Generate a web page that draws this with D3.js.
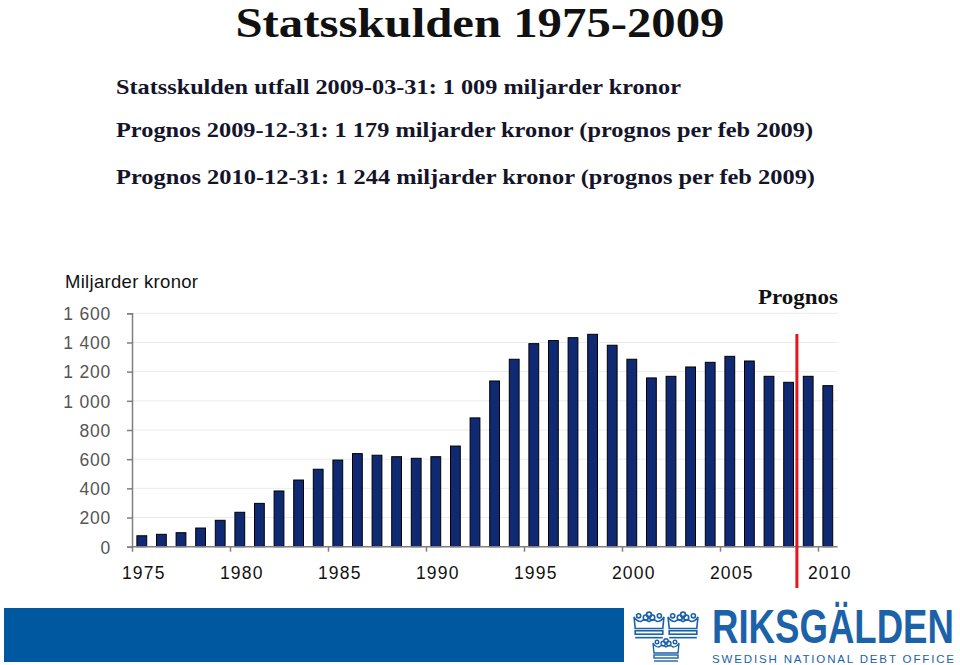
<!DOCTYPE html>
<html><head><meta charset="utf-8">
<script src="https://cdn.jsdelivr.net/npm/d3@7"></script>
<style>html,body{margin:0;padding:0;background:#fff;}svg{display:block;}</style>
</head><body>
<script>
const years = d3.range(1975, 2011);
const debt = [75, 85, 96, 128, 181, 236, 297, 382, 457, 531,
              594, 638, 627, 617, 606, 617, 690, 883, 1136, 1285,
              1392, 1413, 1433, 1456, 1381, 1285, 1157, 1168, 1232, 1264,
              1305, 1273, 1168, 1127, 1168, 1104];
const yTicks = [0, 200, 400, 600, 800, 1000, 1200, 1400, 1600];
const xLabelYears = [1975, 1980, 1985, 1990, 1995, 2000, 2005, 2010];
const title = "Statsskulden 1975-2009";
const subtitles = [
  "Statsskulden utfall 2009-03-31: 1 009 miljarder kronor",
  "Prognos 2009-12-31: 1 179 miljarder kronor (prognos per feb 2009)",
  "Prognos 2010-12-31: 1 244 miljarder kronor (prognos per feb 2009)"
];
const firstForecastYear = 2009;

const W = 960, H = 665;
const svg = d3.select("body").append("svg").attr("width", W).attr("height", H);

function fitText(sel, target) {
  const len = sel.node().getComputedTextLength();
  const fs = parseFloat(sel.attr("font-size"));
  sel.attr("font-size", fs * target / len);
}

// Title
svg.append("text").attr("x", 480).attr("y", 37).attr("text-anchor", "middle")
  .attr("font-family", "Liberation Serif, DejaVu Serif, serif").attr("font-weight", "bold")
  .attr("font-size", 43).attr("fill", "#111")
  .attr("textLength", 489).attr("lengthAdjust", "spacingAndGlyphs").text(title);

// Subtitles
const subW = [565, 697, 699];
const subY = [94, 137, 184];
subtitles.forEach((s, i) => {
  svg.append("text").attr("x", 116).attr("y", subY[i])
    .attr("font-family", "Liberation Serif, DejaVu Serif, serif").attr("font-weight", "bold")
    .attr("font-size", 21).attr("fill", "#14142a")
    .attr("textLength", subW[i]).attr("lengthAdjust", "spacingAndGlyphs").text(s);
});

// Scales
const x0 = 132, x1 = 837.6, yBase = 546.7, yTop = 313.3;
const x = d3.scaleBand().domain(years).range([x0, x1]).paddingInner(0.5).paddingOuter(0.25);
const xLin = d3.scaleLinear().domain([1975, 2011]).range([x0, x1]);
const y = d3.scaleLinear().domain([0, 1600]).range([yBase, yTop]);

// grid
svg.append("g").selectAll("line").data(yTicks.slice(1)).join("line")
  .attr("x1", x0).attr("x2", x1).attr("y1", d => y(d)).attr("y2", d => y(d))
  .attr("stroke", "#ececec").attr("stroke-width", 1);

// Y axis
const yAxis = svg.append("g").attr("transform", `translate(${x0},0)`)
  .call(d3.axisLeft(y).tickValues(yTicks).tickSize(5).tickPadding(16)
    .tickFormat(d => d3.format(",")(d).replace(",", " ")));
yAxis.select(".domain").attr("stroke", "#7f7f7f").attr("stroke-width", 1.5);
yAxis.selectAll(".tick line").attr("stroke", "#7f7f7f").attr("stroke-width", 1.5);
yAxis.selectAll(".tick text").attr("font-family", "Liberation Sans, Arial, sans-serif")
  .attr("font-size", 17.5).attr("fill", "#555").attr("letter-spacing", 0.8).attr("dy", "0.36em");

// Bars
svg.append("g").selectAll("rect").data(years).join("rect")
  .attr("x", d => x(d)).attr("width", x.bandwidth())
  .attr("y", (d, i) => y(debt[i])).attr("height", (d, i) => yBase - y(debt[i]))
  .attr("fill", "#0f2a72").attr("stroke", "#000").attr("stroke-width", 1);

// X axis ticks
const xAxis = svg.append("g").attr("transform", `translate(0,${yBase})`)
  .call(d3.axisBottom(xLin).tickValues(xLabelYears).tickSize(5).tickFormat(""));
xAxis.select(".domain").attr("stroke", "#7f7f7f").attr("stroke-width", 1.5).attr("d", `M${x0},0H${x1}`);
xAxis.selectAll(".tick line").attr("stroke", "#7f7f7f").attr("stroke-width", 1.5);

// X labels
const xLab = svg.append("g").attr("transform", `translate(2,${yBase})`)
  .call(d3.axisBottom(x).tickValues(xLabelYears).tickSize(0).tickPadding(20));
xLab.select(".domain").remove();
xLab.selectAll(".tick text").attr("font-family", "Liberation Sans, Arial, sans-serif")
  .attr("font-size", 17.5).attr("fill", "#111").attr("letter-spacing", 1.2);

// Y label
svg.append("text").attr("x", 65).attr("y", 288)
  .attr("font-family", "Liberation Sans, Arial, sans-serif").attr("font-size", 18.5)
  .attr("fill", "#111").attr("letter-spacing", 0.3).text("Miljarder kronor");

// Forecast line
const prevRight = x(firstForecastYear - 1) + x.bandwidth();
const nextLeft = x(firstForecastYear);
const rx = (prevRight + nextLeft) / 2 - 1.5;
svg.append("line").attr("x1", rx).attr("x2", rx).attr("y1", 334).attr("y2", 588)
  .attr("stroke", "#e4161b").attr("stroke-width", 3);
svg.append("text").attr("x", 798).attr("y", 304).attr("text-anchor", "middle")
  .attr("font-family", "Liberation Serif, DejaVu Serif, serif").attr("font-weight", "bold")
  .attr("font-size", 20).attr("fill", "#111")
  .attr("textLength", 80).attr("lengthAdjust", "spacingAndGlyphs").text("Prognos");

// Footer band
svg.append("rect").attr("x", 4).attr("y", 608).attr("width", 620).attr("height", 54).attr("fill", "#0058a0");

// Logo crowns
function crown(cx, cy, s) {
  const g = svg.append("g").attr("transform", `translate(${cx},${cy}) scale(${s})`)
    .attr("fill", "none").attr("stroke", "#1c62a8").attr("stroke-width", 1.4);
  g.append("path").attr("d", "M-12,3 L-13,-7 Q-11,-3 -7,-3 Q-4,-6 0,-3 Q4,-6 7,-3 Q11,-3 13,-7 L12,3 Z");
  g.append("circle").attr("cx", 0).attr("cy", -9).attr("r", 2.2);
  g.append("circle").attr("cx", -2.8).attr("cy", -6.5).attr("r", 2.2);
  g.append("circle").attr("cx", 2.8).attr("cy", -6.5).attr("r", 2.2);
  g.append("circle").attr("cx", -9).attr("cy", -8).attr("r", 1.8);
  g.append("circle").attr("cx", 9).attr("cy", -8).attr("r", 1.8);
  g.append("rect").attr("x", -12).attr("y", 5).attr("width", 24).attr("height", 3);
  g.append("line").attr("x1", -12).attr("x2", 12).attr("y1", 11).attr("y2", 11);
}
crown(649, 625, 1.15);
crown(683, 625, 1.15);
crown(666, 650, 1.0);

const logo = svg.append("text").attr("transform", "translate(712,643) scale(1,1.3)")
  .attr("font-family", "Liberation Sans, Arial, sans-serif").attr("font-weight", "bold")
  .attr("font-size", 34).attr("fill", "#1c62a8").text("RIKSGÄLDEN");
fitText(logo, 242);
svg.append("text").attr("x", 712).attr("y", 663)
  .attr("font-family", "Liberation Sans, Arial, sans-serif")
  .attr("font-size", 11.5).attr("fill", "#1c62a8")
  .attr("textLength", 242).attr("lengthAdjust", "spacing").text("SWEDISH NATIONAL DEBT OFFICE");
</script>
</body></html>
